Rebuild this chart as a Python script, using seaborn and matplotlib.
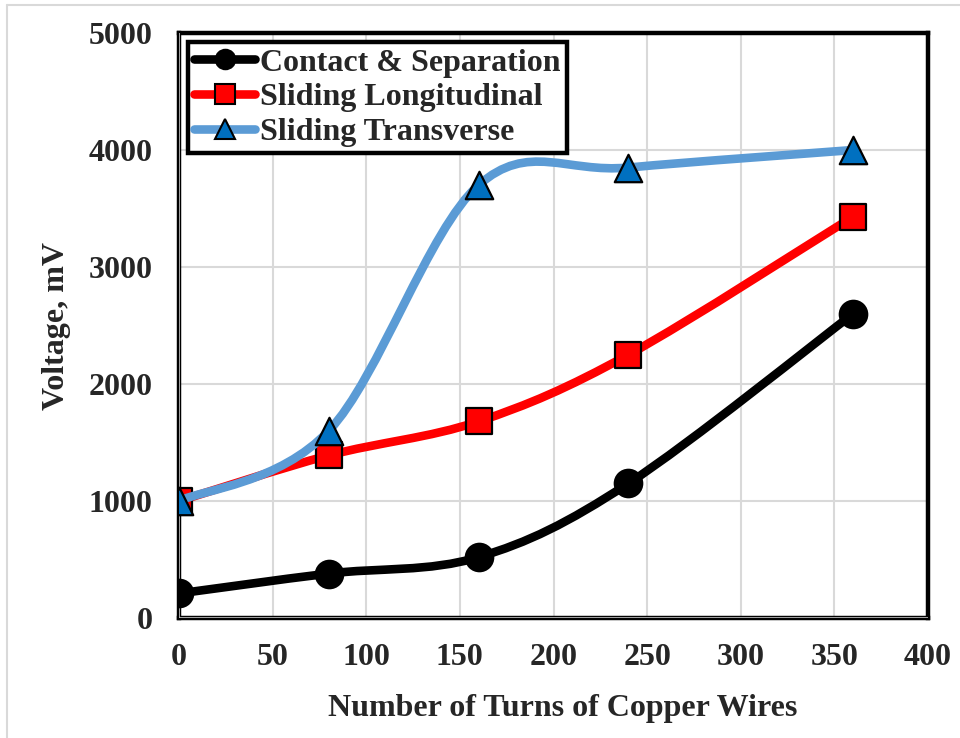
import numpy as np
import pandas as pd
import seaborn as sns
import matplotlib
matplotlib.use("Agg")
import matplotlib.pyplot as plt
from matplotlib.path import Path
from matplotlib.patches import PathPatch
from matplotlib.lines import Line2D

# ---- data ----
turns = [0, 80, 160, 240, 360]
contact = [210, 380, 520, 1150, 2600]
longitudinal = [1000, 1390, 1680, 2250, 3430]
transverse = [1000, 1600, 3700, 3850, 4000]
series_names = ["Contact & Separation", "Sliding Longitudinal", "Sliding Transverse"]
x_ticks = [0, 50, 100, 150, 200, 250, 300, 350, 400]
y_ticks = [0, 1000, 2000, 3000, 4000, 5000]
x_label = "Number of Turns of Copper Wires"
y_label = "Voltage, mV"

sns.set_theme(style="white")
plt.rcParams["font.family"] = ["Liberation Serif", "DejaVu Serif"]
plt.rcParams["font.weight"] = "bold"
plt.rcParams["axes.labelweight"] = "bold"

FS = 23

fig = plt.figure(figsize=(9.6, 7.38), dpi=100)
ax = fig.add_axes([179 / 960, 1 - 618 / 738, 749 / 960, 585 / 738])

# light gray outer border of the chart
fig.add_artist(Line2D([7 / 960, 1.0], [1 - 5 / 738, 1 - 5 / 738], transform=fig.transFigure, color="#D9D9D9", lw=1.5))
fig.add_artist(Line2D([7 / 960, 7 / 960], [0.0, 1 - 5 / 738], transform=fig.transFigure, color="#D9D9D9", lw=1.5))


def smooth_path(x, y):
    """Excel-like smoothed line: cubic Bezier through the data points."""
    pts = np.column_stack([x, y]).astype(float)
    n = len(pts)
    verts = [pts[0]]
    codes = [Path.MOVETO]
    for i in range(n - 1):
        p0 = pts[i - 1] if i > 0 else pts[i]
        p1 = pts[i]
        p2 = pts[i + 1]
        p3 = pts[i + 2] if i + 2 < n else pts[i + 1]
        c1 = p1 + (p2 - p0) / 6.0
        c2 = p2 - (p3 - p1) / 6.0
        verts += [c1, c2, p2]
        codes += [Path.CURVE4] * 3
    return Path(verts, codes)


df = pd.DataFrame({"turns": turns * 3,
                   "value": contact + longitudinal + transverse,
                   "series": np.repeat(series_names, len(turns))})

styles = {
    "Contact & Separation": dict(line="#000000", face="#000000", marker="o", s=390),
    "Sliding Longitudinal": dict(line="#FF0000", face="#FF0000", marker="s", s=360),
    "Sliding Transverse": dict(line="#5B9BD5", face="#0070C0", marker="^", s=390),
}

LW = 6.2
z = 3
for name in series_names:
    st = styles[name]
    sub = df[df["series"] == name]
    patch = PathPatch(smooth_path(sub["turns"], sub["value"]), fill=False,
                      edgecolor=st["line"], lw=LW, capstyle="round", joinstyle="round", zorder=z)
    ax.add_patch(patch)
    sns.scatterplot(data=sub, x="turns", y="value", marker=st["marker"], s=st["s"],
                    color=st["face"], edgecolor="black", linewidth=1.6, zorder=z + 1,
                    ax=ax, legend=False)
    z += 2

ax.set_xlim(0, 400)
ax.set_ylim(0, 5000)
ax.set_xticks(x_ticks)
ax.set_yticks(y_ticks)
ax.set_xticklabels([str(t) for t in x_ticks], fontsize=FS, fontweight="bold")
ax.set_yticklabels([str(t) for t in y_ticks], fontsize=FS, fontweight="bold")
ax.tick_params(axis="x", length=0, pad=18)
ax.tick_params(axis="y", length=0, pad=19)
ax.grid(True, color="#D9D9D9", lw=1.5, zorder=0)
ax.set_axisbelow(True)

for sp in ax.spines.values():
    sp.set_color("black")
    sp.set_linewidth(3.2)
    sp.set_zorder(2.5)
ax.axvline(0, color="#BFBFBF", lw=1.2, zorder=2.6)
ax.axhline(0, color="#BFBFBF", lw=1.2, zorder=2.6)

ax.set_xlabel(x_label, fontsize=FS, fontweight="bold", labelpad=20)
ax.xaxis.set_label_coords(0.512, -0.13)
ax.set_ylabel(y_label, fontsize=FS, fontweight="bold", labelpad=13)

handles = []
for name in series_names:
    st = styles[name]
    handles.append(Line2D([], [], color=st["line"], lw=LW, marker=st["marker"], markersize=14,
                          markerfacecolor=st["face"], markeredgecolor="black", markeredgewidth=1.5,
                          solid_capstyle="round"))
leg = ax.legend(handles, series_names, loc="upper left", bbox_to_anchor=(0.012, 0.985),
                borderaxespad=0, frameon=True, fancybox=False, framealpha=1,
                edgecolor="black", handlelength=1.9, handletextpad=0.15, labelspacing=0.17,
                borderpad=0.2, prop={"weight": "bold", "size": FS})
leg.get_frame().set_linewidth(3.2)
leg.set_zorder(20)

fig.savefig("out.png", dpi=100)
